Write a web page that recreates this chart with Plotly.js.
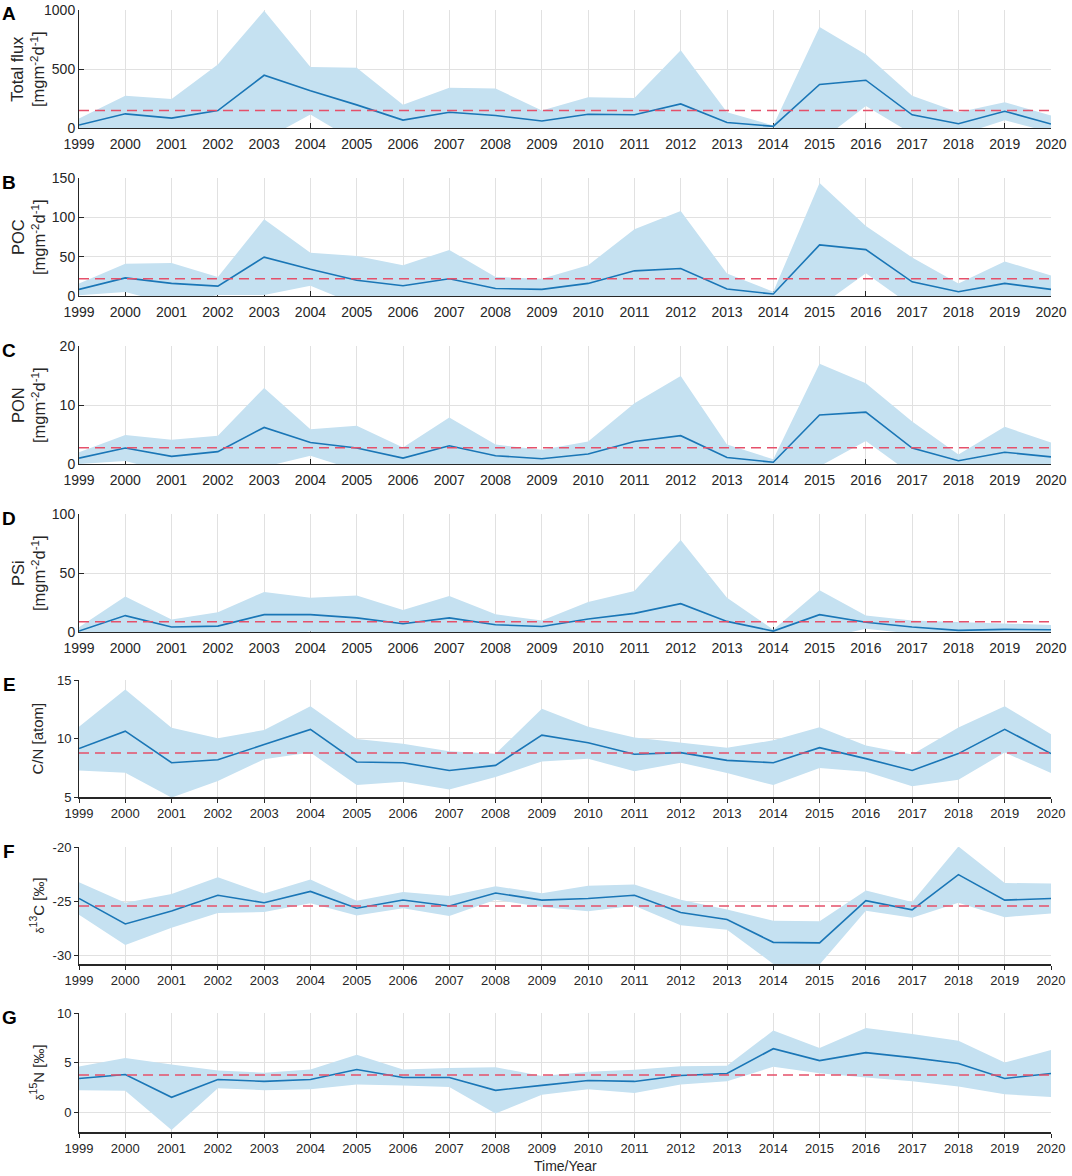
<!DOCTYPE html>
<html>
<head>
<meta charset="utf-8">
<script src="https://cdn.plot.ly/plotly-3.0.1.min.js"></script>
<style>html,body{margin:0;padding:0;background:#fff;}#chart{width:1072px;height:1176px;}</style>
</head>
<body>
<div id="chart"></div>
<script>
// ---------------- DATA ----------------
const years = [1999,2000,2001,2002,2003,2004,2005,2006,2007,2008,2009,2010,2011,2012,2013,2014,2015,2016,2017,2018,2019,2020];
const yearLabels = years.map(String);

const fluxMean = [25,120,84,148,447,316,196,67,134,106,59,117,112,204,47,14,369,405,112,36,142,34];
const fluxSd   = [55,154,162,391,547,201,315,129,207,229,89,143,142,455,87,8,486,218,162,98,76,72];
const fluxAvg  = 148;

const pocMean = [8.4,23,16,12.6,49.4,34,20,13,22,9.6,8.4,16,32,35,8.8,2.5,65,59,18,5.4,16,8.4];
const pocSd   = [7.6,18,26,11.4,48.2,21,31,26,36.6,14.4,13.6,23,53,73,19.7,2.9,78.7,30,31,10.6,28,17.6];
const pocAvg  = 22;

const ponMean = [1.0,2.7,1.3,2.1,6.2,3.65,2.7,1.0,3.1,1.4,0.9,1.7,3.8,4.8,1.1,0.3,8.3,8.8,2.7,0.56,2.0,1.2];
const ponSd   = [1.0,2.2,2.8,2.7,6.7,2.25,3.8,1.8,4.8,1.9,1.5,2.1,6.5,10.1,2.2,0.5,8.7,4.9,4.5,1.04,4.3,2.45];
const ponAvg  = 2.75;

const psiMean = [0.8,13.9,4.2,5,14.7,14.7,12,7,12,6.1,4.7,11,15.8,24,9,0.8,14.7,8.3,4.2,1.4,2.2,1.9];
const psiSd   = [3.2,16.1,6.3,11.7,19.3,14.3,19,11.6,18.5,8.9,5,14.5,18.9,54,20,1.2,20.6,5.6,5.5,6.9,4.8,4.1];
const psiAvg  = 8.7;

const cnMean = [9.14,10.63,7.93,8.19,9.48,10.78,7.99,7.93,7.27,7.7,10.29,9.63,8.65,8.79,8.13,7.93,9.22,8.28,7.27,8.71,10.78,8.71];
const cnSd   = [1.87,3.56,2.98,1.83,1.25,1.98,1.97,1.62,1.63,1.0,2.25,1.37,1.44,0.86,1.08,1.91,1.75,1.12,1.36,2.23,1.98,1.65];
const cnAvg  = 8.77;

const c13Mean = [-24.75,-27.1,-25.9,-24.45,-25.15,-24.1,-25.65,-24.9,-25.45,-24.25,-24.9,-24.75,-24.45,-26.05,-26.7,-28.8,-28.85,-24.95,-25.8,-22.55,-24.9,-24.75];
const c13Sd   = [1.5,1.95,1.55,1.65,0.85,1.1,0.68,0.75,0.93,0.63,0.63,1.18,0.98,1.18,0.93,2.0,2.0,0.93,0.73,2.6,1.58,1.38];
const c13Avg  = -25.45;

const n15Mean = [3.4,3.8,1.5,3.3,3.1,3.3,4.3,3.5,3.5,2.2,2.7,3.2,3.1,3.7,3.9,6.4,5.2,6.0,5.5,4.9,3.4,3.9];
const n15Sd   = [1.2,1.65,3.3,0.9,0.88,1.0,1.5,0.8,0.95,2.33,0.95,0.88,1.17,0.92,0.78,1.83,1.28,2.5,2.38,2.3,1.6,2.37];
const n15Avg  = 3.75;

const panelLetters = ["A","B","C","D","E","F","G"];
const panelTitles = [
  "Total flux<br>[mgm<sup>-2</sup>d<sup>-1</sup>]",
  "POC<br>[mgm<sup>-2</sup>d<sup>-1</sup>]",
  "PON<br>[mgm<sup>-2</sup>d<sup>-1</sup>]",
  "PSi<br>[mgm<sup>-2</sup>d<sup>-1</sup>]",
  "C/N [atom]",
  "<span style='font-size:11px'>δ</span><sup>13</sup>C [‰]",
  "<span style='font-size:11px'>δ</span><sup>15</sup>N [‰]"
];
const yTickVals = [[0,500,1000],[0,50,100,150],[0,10,20],[0,50,100],[5,10,15],[-30,-25,-20],[0,5,10]];
const yTickText = [["0","500","1000"],["0","50","100","150"],["0","10","20"],["0","50","100"],["5","10","15"],["-30","-25","-20"],["0","5","10"]];
const yRanges = [[0,1000],[0,150],[0,20],[0,100],[5,15],[-30.8,-20],[-2,10]];

// ---------------- STYLE / LAYOUT ----------------
const series = [
  [fluxMean, fluxSd, fluxAvg],
  [pocMean, pocSd, pocAvg],
  [ponMean, ponSd, ponAvg],
  [psiMean, psiSd, psiAvg],
  [cnMean, cnSd, cnAvg],
  [c13Mean, c13Sd, c13Avg],
  [n15Mean, n15Sd, n15Avg]
];
// pixel boxes [top, bottom] of each panel
const boxes = [[10,128],[178,296],[346,464],[514,632],[680,797],[847,964],[1013,1132]];

const W = 1072, H = 1176, L = 79, R = 21;
const PW = W - L - R;
const FONT = "Liberation Sans, Arial, Helvetica, sans-serif";
const TXT = "#262626";
const BAND = "#c5e1f1";
const LINE = "#1a76b6";
const DASH = "#e5506a";
const GRID = "#e1e1e1";

const traces = [];
const layout = {
  width: W, height: H,
  margin: {l: L, r: R, t: 0, b: 0, pad: 0},
  paper_bgcolor: "#fff", plot_bgcolor: "rgba(0,0,0,0)",
  showlegend: false,
  font: {family: FONT, size: 14, color: TXT},
  annotations: []
};

const px2x = px => (px - L) / PW;
const py2y = py => 1 - py / H;

series.forEach((s, k) => {
  const [mean, sd, avg] = s;
  const sfx = k === 0 ? "" : String(k + 1);
  const xa = "x" + sfx, ya = "y" + sfx;
  const upper = mean.map((m, i) => m + sd[i]);
  const lower = mean.map((m, i) => m - sd[i]);
  traces.push({
    x: years.concat(years.slice().reverse()),
    y: upper.concat(lower.slice().reverse()),
    xaxis: xa, yaxis: ya, type: "scatter", mode: "lines",
    fill: "toself", fillcolor: BAND, line: {width: 0, color: BAND},
    hoverinfo: "skip"
  });
  traces.push({
    x: years, y: mean, xaxis: xa, yaxis: ya, type: "scatter", mode: "lines",
    line: {color: LINE, width: 1.6}
  });
  traces.push({
    x: [years[0], years[years.length - 1]], y: [avg, avg],
    xaxis: xa, yaxis: ya, type: "scatter", mode: "lines",
    line: {color: DASH, width: 1.5, dash: "10px,6px"}
  });

  const [top, bot] = boxes[k];
  const lower3 = k >= 4;
  const tickFont = {family: FONT, size: lower3 ? 13 : 14, color: TXT};
  layout["xaxis" + sfx] = {
    domain: [0, 1], anchor: ya, range: [1999, 2020],
    tickmode: "array", tickvals: years, ticktext: yearLabels,
    ticks: lower3 ? "outside" : "inside", ticklen: lower3 ? 4 : 5, tickcolor: TXT, tickwidth: 1,
    showline: true, linecolor: TXT, linewidth: lower3 ? 1.5 : 1,
    showgrid: true, gridcolor: GRID, gridwidth: 1, zeroline: false,
    layer: "below traces", tickfont: tickFont, ticklabelstandoff: lower3 ? 0 : 3,
    fixedrange: true
  };
  layout["yaxis" + sfx] = {
    domain: [py2y(bot), py2y(top)], anchor: xa, range: yRanges[k],
    tickmode: "array", tickvals: yTickVals[k], ticktext: yTickText[k],
    ticks: lower3 ? "outside" : "inside", ticklen: lower3 ? 4 : 5, tickcolor: TXT, tickwidth: 1,
    showline: true, linecolor: TXT, linewidth: 1,
    showgrid: true, gridcolor: GRID, gridwidth: 1, zeroline: false,
    layer: "above traces", tickfont: {family: FONT, size: lower3 ? 13 : 14, color: TXT},
    fixedrange: true
  };

  // y-axis title
  const twoLine = k < 4;
  layout.annotations.push({
    xref: "paper", yref: "paper",
    x: px2x(twoLine ? 28 : 37), y: py2y((top + bot) / 2),
    xanchor: "center", yanchor: "middle", textangle: -90,
    text: panelTitles[k], showarrow: false,
    font: {family: FONT, size: lower3 ? 15 : 16.5, color: TXT}
  });
  // panel letter
  layout.annotations.push({
    xref: "paper", yref: "paper",
    x: px2x(9), y: py2y(top + 4),
    xanchor: "center", yanchor: "middle",
    text: "<b>" + panelLetters[k] + "</b>", showarrow: false,
    font: {family: FONT, size: 19, color: "#000"}
  });
});

layout.annotations.push({
  xref: "paper", yref: "paper", x: px2x(565), y: py2y(1166),
  xanchor: "center", yanchor: "middle", text: "Time/Year", showarrow: false,
  font: {family: FONT, size: 14, color: TXT}
});

Plotly.newPlot("chart", traces, layout, {staticPlot: true, displayModeBar: false});
</script>
</body>
</html>
